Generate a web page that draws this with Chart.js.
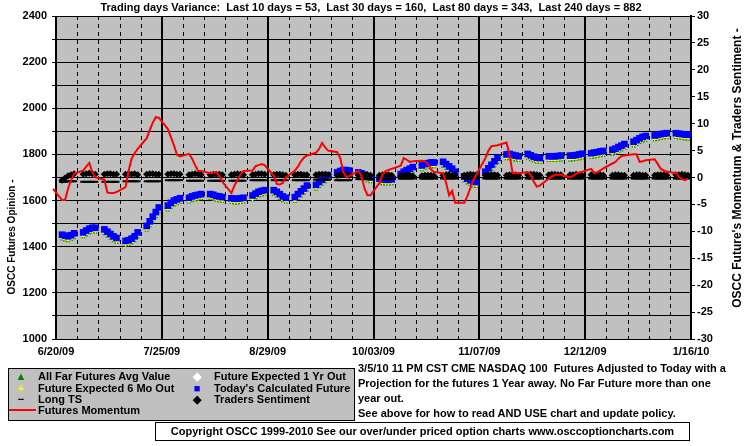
<!DOCTYPE html>
<html>
<head>
<meta charset="utf-8">
<script src="https://cdn.jsdelivr.net/npm/chart.js@4.4.0/dist/chart.umd.min.js"></script>
<style>
  html, body { margin: 0; padding: 0; background: #fff; }
  #wrap { position: relative; width: 755px; height: 446px; overflow: hidden; }
  #chart { position: absolute; left: 0; top: 0; }
  .txt { font-family: "Liberation Sans", Arial, sans-serif; font-weight: bold; font-size: 11px; color: #000; white-space: pre; }
  #legend { position: absolute; left: 8px; top: 368px; width: 345px; height: 51px; background: #c0c0c0; border: 1px solid #000; }
  #legend .item { position: absolute; line-height: 14px; height: 14px; }
  #legend .mark { position: absolute; width: 14px; text-align: center; line-height: 14px; height: 14px; }
  #note { position: absolute; left: 358px; top: 361px; line-height: 15px; }
  #copy { position: absolute; left: 155px; top: 422px; width: 533px; height: 17px; border: 1px solid #000; background: #fff; text-align: center; line-height: 17px; }
</style>
</head>
<body>
<div id="wrap">
  <canvas id="chart" width="755" height="446"></canvas>
  <div id="legend" class="txt"></div>
  <div id="note" class="txt">3/5/10 11 PM CST CME NASDAQ 100  Futures Adjusted to Today with a
Projection for the futures 1 Year away. No Far Future more than one
year out.
See above for how to read AND USE chart and update policy.</div>
  <div id="copy" class="txt">Copyright OSCC 1999-2010 See our over/under priced option charts www.osccoptioncharts.com</div>
</div>
<script>
const chartTitle = 'Trading days Variance:  Last 10 days = 53,  Last 30 days = 160,  Last 80 days = 343,  Last 240 days = 882';
const leftTitle = 'OSCC Futures Opinion -';
const rightTitle = "OSCC Future's Momentum & Traders Sentiment -";
const xTickLabels = ['6/20/09', '7/25/09', '8/29/09', '10/03/09', '11/07/09', '12/12/09', '1/16/10'];

// trading days: Fri 6/19/09 then every weekday through Fri 1/15/10
const axisStart = new Date(2009, 5, 20);
const firstTradingDay = new Date(2009, 5, 19);
const lastTradingDay = new Date(2010, 0, 15);

// Today's Calculated Future (left axis), one row per week, first slot is 6/19
const todaysFuture = [null,
  1452, 1448, 1445, 1450, 1458,
  1462, 1470, 1478, 1482, 1482,
  1475, 1465, 1455, 1445, 1438,
  1425, 1428, 1435, 1445, 1462,
  1490, 1510, 1530, 1550, 1570,
  1578, 1590, 1600, 1605, 1610,
  1612, 1618, 1622, 1625, 1628,
  1628, 1625, 1620, 1618, 1615,
  1610, 1608, 1608, 1610, 1612,
  1622, 1630, 1638, 1642, 1645,
  1645, 1638, 1628, 1618, 1612,
  1615, 1628, 1640, 1652, 1665,
  1668, 1680, 1690, 1700, 1710,
  1722, 1728, 1732, 1732, 1730,
  1722, 1718, 1712, 1705, 1700,
  1695, 1692, 1690, 1690, 1692,
  1715, 1725, 1732, 1738, 1745,
  1752, 1758, 1762, 1765, 1765,
  1768, 1758, 1748, 1738, 1725,
  1705, 1695, 1688, 1682, 1680,
  1725, 1740, 1755, 1770, 1785,
  1800, 1802, 1798, 1795, 1792,
  1802, 1796, 1790, 1786, 1784,
  1792, 1792, 1792, 1793, 1795,
  1795, 1795, 1797, 1800, 1803,
  1805, 1808, 1810, 1813, 1815,
  1820, 1825, 1832, 1838, 1845,
  1855, 1862, 1870, 1876, 1880,
  1882, 1885, 1888, 1890, 1892,
  1892, 1890, 1888, 1886, 1885
];

// Future Expected 1 Yr Out
const expected1Yr = [null,
  1438, 1434, 1431, 1436, 1444,
  1448, 1456, 1464, 1468, 1468,
  1461, 1451, 1441, 1431, 1424,
  1411, 1414, 1421, 1431, 1448,
  1476, 1496, 1516, 1536, 1556,
  1564, 1576, 1586, 1591, 1596,
  1598, 1604, 1608, 1611, 1614,
  1614, 1611, 1606, 1604, 1601,
  1596, 1594, 1594, 1596, 1598,
  1608, 1616, 1624, 1628, 1631,
  1631, 1624, 1614, 1604, 1598,
  1601, 1614, 1626, 1638, 1651,
  1654, 1666, 1676, 1686, 1696,
  1708, 1714, 1718, 1718, 1716,
  1708, 1704, 1698, 1691, 1686,
  1681, 1678, 1676, 1676, 1678,
  1701, 1711, 1718, 1724, 1731,
  1738, 1744, 1748, 1751, 1751,
  1754, 1744, 1734, 1724, 1711,
  1691, 1681, 1674, 1668, 1666,
  1711, 1726, 1741, 1756, 1771,
  1786, 1788, 1784, 1781, 1778,
  1788, 1782, 1776, 1772, 1770,
  1778, 1778, 1778, 1779, 1781,
  1781, 1781, 1783, 1786, 1789,
  1791, 1794, 1796, 1799, 1801,
  1806, 1811, 1818, 1824, 1831,
  1841, 1848, 1856, 1862, 1866,
  1868, 1871, 1874, 1876, 1878,
  1878, 1876, 1874, 1872, 1871
];

// Future Expected 6 Mo Out
const expected6Mo = [null,
  1435, 1431, 1428, 1433, 1441,
  1445, 1453, 1461, 1465, 1465,
  1458, 1448, 1438, 1428, 1421,
  1408, 1411, 1418, 1428, 1445,
  1473, 1493, 1513, 1533, 1553,
  1561, 1573, 1583, 1588, 1593,
  1595, 1601, 1605, 1608, 1611,
  1611, 1608, 1603, 1601, 1598,
  1593, 1591, 1591, 1593, 1595,
  1605, 1613, 1621, 1625, 1628,
  1628, 1621, 1611, 1601, 1595,
  1598, 1611, 1623, 1635, 1648,
  1651, 1663, 1673, 1683, 1693,
  1705, 1711, 1715, 1715, 1713,
  1705, 1701, 1695, 1688, 1683,
  1678, 1675, 1673, 1673, 1675,
  1698, 1708, 1715, 1721, 1728,
  1735, 1741, 1745, 1748, 1748,
  1751, 1741, 1731, 1721, 1708,
  1688, 1678, 1671, 1665, 1663,
  1708, 1723, 1738, 1753, 1768,
  1783, 1785, 1781, 1778, 1775,
  1785, 1779, 1773, 1769, 1767,
  1775, 1775, 1775, 1776, 1778,
  1778, 1778, 1780, 1783, 1786,
  1788, 1791, 1793, 1796, 1798,
  1803, 1808, 1815, 1821, 1828,
  1838, 1845, 1853, 1859, 1863,
  1865, 1868, 1871, 1873, 1875,
  1875, 1873, 1871, 1869, 1868
];

// All Far Futures Avg Value
const farFuturesAvg = [null,
  1432, 1428, 1425, 1430, 1438,
  1442, 1450, 1458, 1462, 1462,
  1455, 1445, 1435, 1425, 1418,
  1405, 1408, 1415, 1425, 1442,
  1470, 1490, 1510, 1530, 1550,
  1558, 1570, 1580, 1585, 1590,
  1592, 1598, 1602, 1605, 1608,
  1608, 1605, 1600, 1598, 1595,
  1590, 1588, 1588, 1590, 1592,
  1602, 1610, 1618, 1622, 1625,
  1625, 1618, 1608, 1598, 1592,
  1595, 1608, 1620, 1632, 1645,
  1648, 1660, 1670, 1680, 1690,
  1702, 1708, 1712, 1712, 1710,
  1702, 1698, 1692, 1685, 1680,
  1675, 1672, 1670, 1670, 1672,
  1695, 1705, 1712, 1718, 1725,
  1732, 1738, 1742, 1745, 1745,
  1748, 1738, 1728, 1718, 1705,
  1685, 1675, 1668, 1662, 1660,
  1705, 1720, 1735, 1750, 1765,
  1780, 1782, 1778, 1775, 1772,
  1782, 1776, 1770, 1766, 1764,
  1772, 1772, 1772, 1773, 1775,
  1775, 1775, 1777, 1780, 1783,
  1785, 1788, 1790, 1793, 1795,
  1800, 1805, 1812, 1818, 1825,
  1835, 1842, 1850, 1856, 1860,
  1862, 1865, 1868, 1870, 1872,
  1872, 1870, 1868, 1866, 1865
];

// Traders Sentiment (right axis)
const tradersSentiment = [null,
  -0.5, -0.1, 0.3, 0.5, 0.7,
  0.6, 0.7, 0.8, 0.7, 0.6,
  0.6, 0.7, 0.7, 0.6, 0.6,
  0.6, 0.7, 0.6, 0.7, 0.5,
  0.6, 0.7, 0.7, 0.6, 0.6,
  0.6, 0.7, 0.7, 0.6, 0.6,
  0.5, 0.6, 0.7, 0.6, 0.5,
  0.5, 0.6, 0.6, 0.6, 0.5,
  0.5, 0.6, 0.7, 0.6, 0.5,
  0.5, 0.6, 0.7, 0.7, 0.6,
  0.5, 0.6, 0.6, 0.5, 0.4,
  0.5, 0.6, 0.6, 0.5, 0.5,
  0.5, 0.6, 0.6, 0.6, 0.5,
  0.4, 0.5, 0.6, 0.5, 0.4,
  0.4, 0.5, 0.5, 0.5, 0.4,
  0.4, 0.5, 0.5, 0.5, 0.4,
  0.3, 0.4, 0.4, 0.4, 0.3,
  0.3, 0.4, 0.4, 0.4, 0.3,
  0.4, 0.5, 0.5, 0.4, 0.4,
  0.4, 0.5, 0.6, 0.5, 0.5,
  0.4, 0.5, 0.5, 0.5, 0.4,
  0.4, 0.5, 0.5, 0.5, 0.4,
  0.5, 0.6, 0.6, 0.5, 0.4,
  0.5, 0.6, 0.6, 0.5, 0.5,
  0.5, 0.5, 0.6, 0.5, 0.4,
  0.5, 0.5, 0.5, 0.5, 0.4,
  0.4, 0.5, 0.5, 0.4, 0.4,
  0.4, 0.5, 0.5, 0.4, 0.4,
  0.4, 0.5, 0.5, 0.5, 0.4,
  0.5, 0.5, 0.6, 0.5, 0.4
];

// Long TS (right axis)
const longTS = [null,
  -0.8, -0.8, -0.7, -0.7, -0.7,
  -0.8, -0.8, -0.8, -0.8, -0.8,
  -0.8, -0.8, -0.8, -0.8, -0.8,
  -0.7, -0.7, -0.7, -0.7, -0.7,
  -0.7, -0.7, -0.7, -0.7, -0.7,
  -0.5, -0.5, -0.5, -0.5, -0.5,
  -0.6, -0.6, -0.6, -0.6, -0.6,
  -0.6, -0.6, -0.6, -0.6, -0.6,
  -0.6, -0.6, -0.6, -0.6, -0.6,
  -0.5, -0.5, -0.5, -0.5, -0.5,
  -0.5, -0.5, -0.5, -0.5, -0.5,
  -0.5, -0.5, -0.5, -0.5, -0.5,
  -0.4, -0.4, -0.4, -0.4, -0.4,
  -0.5, -0.5, -0.5, -0.5, -0.5,
  -0.3, -0.3, -0.3, -0.3, -0.3,
  -0.3, -0.3, -0.3, -0.3, -0.3,
  -0.2, -0.2, -0.2, -0.2, -0.2,
  -0.2, -0.2, -0.2, -0.2, -0.2,
  -0.2, -0.2, -0.2, -0.2, -0.2,
  -0.2, -0.2, -0.2, -0.2, -0.2,
  -0.2, -0.2, -0.2, -0.2, -0.2,
  -0.2, -0.2, -0.2, -0.2, -0.2,
  -0.2, -0.2, -0.2, -0.2, -0.2,
  -0.2, -0.2, -0.2, -0.2, -0.2,
  -0.2, -0.2, -0.2, -0.2, -0.2,
  -0.2, -0.2, -0.2, -0.2, -0.2,
  -0.2, -0.2, -0.2, -0.2, -0.2,
  -0.2, -0.2, -0.2, -0.2, -0.2,
  -0.2, -0.2, -0.2, -0.2, -0.2,
  -0.2, -0.2, -0.2, -0.2, -0.2
];

// Futures Momentum (right axis)
const futuresMomentum = [-2.1,
  -4.2, -4.2, -2.0, -0.5, 0.7,
  1.3, 2.0, 2.7, 1.0, 0.0,
  -0.4, -2.8, -2.9, -2.9, -2.7,
  -1.8, 1.2, 3.5, 4.5, 5.3,
  7.3, 8.8, 10.2, 11.2, 11.1,
  9.0, 7.5, 6.0, 4.2, 3.9,
  4.4, 3.5, 2.3, 1.2, 1.2,
  0.8, 0.9, 1.0, 0.3, -0.8,
  -2.9, -1.5, -0.5, 0.6, 1.2,
  1.3, 2.1, 2.3, 2.5, 2.3,
  0.3, -1.2, -1.3, -1.0, 0.0,
  1.3, 2.0, 3.0, 3.7, 4.1,
  4.6, 5.3, 6.4, 5.6, 5.0,
  4.7, 3.6, 1.0, 0.1, 0.3,
  1.2, 0.3, -2.0, -3.3, -3.3,
  -1.0, 0.6, 1.2, 1.4, 1.6,
  2.2, 3.6, 3.3, 2.9, 3.0,
  3.1, 3.0, 2.5, 1.5, 1.0,
  0.8, -1.0, -3.3, -2.5, -4.7,
  -4.7, -3.5, -2.0, -0.5, 0.5,
  3.6, 5.0, 5.8, 5.9, 6.0,
  6.5, 4.2, 0.8, 0.8, 0.8,
  1.0, 0.5, -0.8, -1.7, -1.5,
  -0.2, 0.2, 0.5, 0.5, 0.5,
  0.0, 0.3, 0.7, 0.9, 1.1,
  1.6, 0.8, 1.0, 1.3, 1.7,
  2.6, 2.9, 3.5, 4.0, 4.1,
  4.3, 4.3, 2.9, 3.0, 3.2,
  3.4, 2.5, 1.6, 1.3, 1.1,
  0.8, 0.1, -0.3, -0.5, -0.2
];

const legendItems = [
  { label: 'All Far Futures Avg Value', mark: '\u25B2', color: '#008000', col: 0, row: 0 },
  { label: 'Future Expected 6 Mo Out', mark: '+', color: '#ffff00', col: 0, row: 1 },
  { label: 'Long TS', mark: '\u2212', color: '#000000', col: 0, row: 2 },
  { label: 'Futures Momentum', mark: 'line', color: '#ff0000', col: 0, row: 3 },
  { label: 'Future Expected 1 Yr Out', mark: '\u25C6', color: '#ffffff', col: 1, row: 0 },
  { label: "Today's Calculated Future", mark: '\u25A0', color: '#0000ff', col: 1, row: 1 },
  { label: 'Traders Sentiment', mark: '\u25C6', color: '#000000', col: 1, row: 2 }
];

// x positions of trading days, in calendar days from 6/20/09
const dayMs = 86400000;
const tradingX = [];
for (let t = firstTradingDay.getTime(); t <= lastTradingDay.getTime(); t += dayMs) {
  const d = new Date(t);
  if (d.getDay() === 0 || d.getDay() === 6) continue;
  tradingX.push(Math.round((t - axisStart.getTime()) / dayMs));
}
const pts = (vals) => vals.map((v, i) => ({ x: tradingX[i], y: v }));

// legend (html)
const legendEl = document.getElementById('legend');
legendItems.forEach(it => {
  const top = [0, 12, 23, 34][it.row];
  const markX = it.col === 0 ? 5 : 181;
  const textX = it.col === 0 ? 29 : 205;
  if (it.mark === 'line') {
    const ln = document.createElement('div');
    ln.style.cssText = `position:absolute;left:0px;top:${top + 6}px;width:27px;height:2px;background:${it.color}`;
    legendEl.appendChild(ln);
  } else {
    const m = document.createElement('div');
    m.className = 'mark';
    m.style.cssText = `left:${markX}px;top:${top}px;color:${it.color};font-size:11px`;
    m.textContent = it.mark;
    legendEl.appendChild(m);
  }
  const t = document.createElement('div');
  t.className = 'item';
  t.style.left = textX + 'px';
  t.style.top = top + 'px';
  t.textContent = it.label;
  legendEl.appendChild(t);
});

const FONT = '"Liberation Sans", Arial, sans-serif';
Chart.defaults.font.family = FONT;
Chart.defaults.font.size = 11;
Chart.defaults.font.weight = 'bold';
Chart.defaults.color = '#000';

const plotBackground = {
  id: 'plotBackground',
  beforeDraw(chart) {
    const { ctx, chartArea: a } = chart;
    ctx.save();
    ctx.fillStyle = '#c0c0c0';
    ctx.fillRect(a.left, a.top, a.right - a.left, a.bottom - a.top);
    ctx.restore();
  }
};

// dashed weekly lines between the solid 5-week lines
const weekLines = {
  id: 'weekLines',
  beforeDatasetsDraw(chart) {
    const { ctx, chartArea: a, scales: { x } } = chart;
    ctx.save();
    ctx.strokeStyle = '#000';
    ctx.lineWidth = 1;
    ctx.setLineDash([4, 4]);
    for (let d = 7; d < 210; d += 7) {
      if (d % 35 === 0) continue;
      const px = Math.round(x.getPixelForValue(d)) + 0.5;
      ctx.beginPath();
      ctx.moveTo(px, a.top);
      ctx.lineTo(px, a.bottom);
      ctx.stroke();
    }
    ctx.restore();
  }
};

const chartTexts = {
  id: 'chartTexts',
  afterDraw(chart) {
    const { ctx } = chart;
    ctx.save();
    ctx.fillStyle = '#000';
    ctx.textBaseline = 'middle';
    ctx.textAlign = 'center';
    ctx.font = `bold 11px ${FONT}`;
    ctx.fillText(chartTitle, 371, 8);

    ctx.font = `bold 10px ${FONT}`;
    ctx.translate(12, 237);
    ctx.rotate(-Math.PI / 2);
    ctx.fillText(leftTitle, 0, 0);
    ctx.restore();

    ctx.save();
    ctx.fillStyle = '#000';
    ctx.textBaseline = 'middle';
    ctx.textAlign = 'center';
    ctx.font = `bold 12px ${FONT}`;
    ctx.translate(738, 168);
    ctx.rotate(-Math.PI / 2);
    ctx.fillText(rightTitle, 0, 0);
    ctx.restore();
  }
};

const markerSet = (extra) => Object.assign({ showLine: false, pointBorderWidth: 0, clip: false }, extra);

new Chart(document.getElementById('chart'), {
  type: 'line',
  data: {
    datasets: [
      markerSet({ label: 'Futures Momentum', data: pts(futuresMomentum), yAxisID: 'y1', showLine: true,
        borderColor: '#ff0000', borderWidth: 2, pointRadius: 0, order: 0 }),
      markerSet({ label: 'Traders Sentiment', data: pts(tradersSentiment), yAxisID: 'y1',
        pointStyle: 'rectRot', pointRadius: 3.6, pointBackgroundColor: '#000', order: 1 }),
      markerSet({ label: 'Long TS', data: pts(longTS), yAxisID: 'y1',
        pointStyle: 'line', pointRadius: 3, pointBorderWidth: 2, pointBorderColor: '#000', order: 2 }),
      markerSet({ label: "Today's Calculated Future", data: pts(todaysFuture), yAxisID: 'y',
        pointStyle: 'rect', pointRadius: 4.7, pointBackgroundColor: '#0000ff', order: 3 }),
      markerSet({ label: 'Future Expected 6 Mo Out', data: pts(expected6Mo), yAxisID: 'y',
        pointStyle: 'cross', pointRadius: 2, pointBorderWidth: 1, pointBorderColor: '#ffff00', order: 4 }),
      markerSet({ label: 'Future Expected 1 Yr Out', data: pts(expected1Yr), yAxisID: 'y',
        pointStyle: 'rectRot', pointRadius: 1.6, pointBackgroundColor: '#ffffff', order: 5 }),
      markerSet({ label: 'All Far Futures Avg Value', data: pts(farFuturesAvg), yAxisID: 'y',
        pointStyle: 'triangle', pointRadius: 2.4, pointBackgroundColor: '#008000', order: 6 })
    ]
  },
  options: {
    responsive: false,
    animation: false,
    events: [],
    layout: { padding: { top: 16, bottom: 85, left: 0, right: 0 } },
    scales: {
      x: {
        type: 'linear',
        min: 0,
        max: 210,
        afterFit(scale) { scale.height = 22; },
        ticks: {
          stepSize: 35,
          autoSkip: false,
          maxRotation: 0,
          padding: 6,
          callback: (v) => xTickLabels[Math.round(v / 35)]
        },
        grid: { color: '#000', lineWidth: 2, drawTicks: false },
        border: { color: '#000', width: 1 }
      },
      y: {
        position: 'left',
        min: 1000,
        max: 2400,
        afterFit(scale) { scale.width = 56; },
        ticks: {
          stepSize: 100,
          autoSkip: false,
          padding: 5,
          callback: (v) => (v % 200 === 0 ? v : '')
        },
        grid: { color: '#000', lineWidth: 1, tickLength: 4 },
        border: { color: '#000', width: 1 }
      },
      y1: {
        position: 'right',
        min: -30,
        max: 30,
        afterFit(scale) { scale.width = 64; },
        ticks: { stepSize: 5, autoSkip: false, padding: 2 },
        grid: { drawOnChartArea: false, color: '#000', tickLength: 4 },
        border: { color: '#000', width: 2 }
      }
    },
    plugins: {
      legend: { display: false },
      tooltip: { enabled: false }
    }
  },
  plugins: [plotBackground, weekLines, chartTexts]
});
</script>
</body>
</html>
